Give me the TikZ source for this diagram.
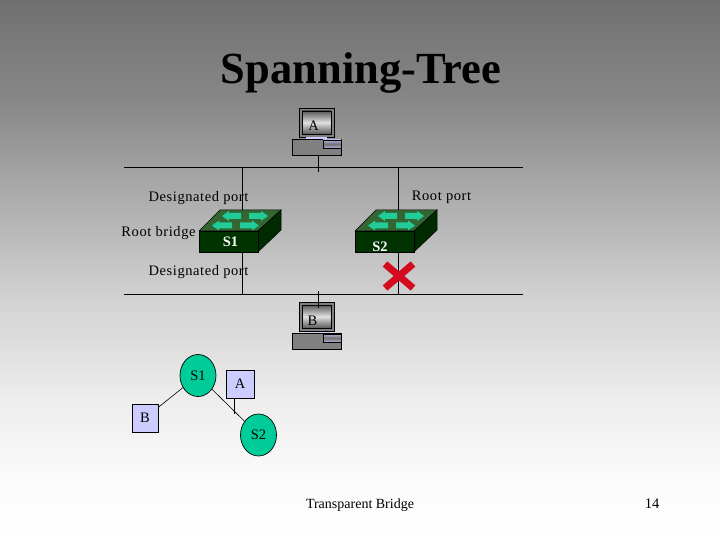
\documentclass[tikz,border=0pt]{standalone}
\usepackage{fontspec}
\setmainfont{Liberation Serif}
\newfontfamily\spacedfont[LetterSpace=4]{Liberation Serif}
\usetikzlibrary{shapes.geometric}
\definecolor{swfront}{HTML}{003300}
\definecolor{swtop}{HTML}{336633}
\definecolor{swarrow}{HTML}{22CC99}
\definecolor{nodegreen}{HTML}{00CC99}
\definecolor{boxblue}{HTML}{CCCCFF}
\definecolor{cross}{HTML}{D40A1E}
\definecolor{bga}{gray}{0.44}
\definecolor{bgb}{gray}{0.53}
\definecolor{bgc}{gray}{0.68}
\definecolor{bgd}{gray}{0.825}
\definecolor{bge}{gray}{0.93}
\definecolor{bgf}{gray}{0.985}
\pgfdeclareverticalshading{slidebg}{100bp}{color(0bp)=(white); color(25bp)=(white); color(30.5bp)=(bgf); color(38bp)=(bge); color(47.2bp)=(bgd); color(56.5bp)=(bgc); color(65.7bp)=(bgb); color(75bp)=(bga); color(100bp)=(bga)}
\tikzset{
  px/.style={x=1pt,y=-1pt},
  wire/.style={draw=black,line width=0.9pt},
  thin wire/.style={draw=black,line width=0.6pt},
  lbl/.style={font=\fontsize{14.5}{16}\selectfont,text=black,inner sep=0pt,anchor=center},
  spaced/.style={font=\spacedfont\fontsize{14.5}{16}\selectfont,text=black,inner sep=0pt,anchor=center},
  termbox/.style={draw=black,fill=boxblue,line width=0.7pt,minimum width=#1,minimum height=28pt,inner sep=0pt,font=\fontsize{14.5}{16}\selectfont},
  treenode/.style={ellipse,draw=black,fill=nodegreen,line width=0.7pt,minimum width=36pt,minimum height=42pt,inner sep=0pt,font=\fontsize{14.5}{16}\selectfont},
  swlabel/.style={font=\bfseries\fontsize{14.5}{16}\selectfont,text=white,inner sep=0pt}
}
% tip x, tail x, centre y: one block arrow on a switch's top face
\newcommand{\BlockArrow}[3]{%
  \pgfmathsetmacro{\hx}{#1+(#2>#1?7:-7)}%
  \fill[swarrow] (#1,#3)--(\hx,#3-5)--(\hx,#3-3)--(#2,#3-3)--(#2,#3+3)--(\hx,#3+3)--(\hx,#3+5)--cycle;}
\newcommand{\SwitchAt}[2]{%
  \begin{scope}[shift={(#1,#2)}]
    \fill[swtop,draw=black,line width=0.5pt] (0,21)--(21,0)--(82,0)--(59,21)--cycle;
    \fill[swfront!85!black,draw=black,line width=0.5pt] (59,21)--(82,0)--(82,20)--(59,42)--cycle;
    \fill[swfront,draw=black,line width=0.5pt] (0,21) rectangle (59,42);
    \BlockArrow{23}{42}{6}
    \BlockArrow{69}{50}{6}
    \BlockArrow{13}{33}{15.5}
    \BlockArrow{60}{41}{15.5}
  \end{scope}}
\newcommand{\ComputerAt}[2]{%
  \begin{scope}[shift={(#1,#2)}]
    \fill[gray,draw=black,line width=0.6pt] (7,0) rectangle (42,29);
    \shade[top color=black!65,bottom color=black!65,middle color=black!12,draw=black,line width=0.6pt] (10,3) rectangle (39,26);
    \fill[boxblue] (14,29.5) rectangle (35,31.5);
    \fill[gray,draw=black,line width=0.6pt] (0,31) rectangle (49,47);
    \shade[top color=boxblue!85!black,bottom color=boxblue!85!black,middle color=black!55,draw=black,line width=0.5pt] (31,32) rectangle (49,40);
  \end{scope}}
\begin{document}
\begin{tikzpicture}[px]
\useasboundingbox (0,0) rectangle (720,540);
\shade[shading=slidebg] (0,0) rectangle (720,540);

\node[font=\bfseries\fontsize{44.5}{46}\selectfont,inner sep=0pt] (title) at (361,73) {Spanning-Tree};

% buses
\coordinate (bus1l) at (124,167); \coordinate (bus1r) at (523,167);
\coordinate (bus2l) at (124,294); \coordinate (bus2r) at (523,294);
\draw[wire] (bus1l) -- (bus1r);
\draw[wire] (bus2l) -- (bus2r);

% switch drops
\coordinate (s1top) at (242,167); \coordinate (s1in) at (242,212);
\coordinate (s1out) at (242,252); \coordinate (s1bot) at (242,294);
\coordinate (s2top) at (398,167); \coordinate (s2in) at (398,212);
\coordinate (s2out) at (398,252); \coordinate (s2bot) at (398,294);
\draw[wire] (s1top) -- (s1in);
\draw[wire] (s1out) -- (s1bot);
\draw[wire] (s2top) -- (s2in);
\draw[wire] (s2out) -- (s2bot);

\SwitchAt{199}{210}
\SwitchAt{355}{210}
\node[swlabel] (s1lab) at (230.5,241.5) {S1};
\node[swlabel] (s2lab) at (380,247) {S2};

% red cross
\coordinate (xa) at (385,264); \coordinate (xb) at (413,288);
\coordinate (xc) at (413,264); \coordinate (xd) at (385,288);
\draw[cross,line width=7pt] (xa) -- (xb);
\draw[cross,line width=7pt] (xc) -- (xd);

% computers
\ComputerAt{292}{108}
\ComputerAt{292}{302}
\node[lbl] (pca) at (313.5,126) {A};
\node[lbl] (pcb) at (312.5,321) {B};
\coordinate (pcat) at (318,155); \coordinate (pcad) at (318,172);
\coordinate (pcbt) at (318,291); \coordinate (pcbd) at (318,308);
\draw[wire] (pcat) -- (pcad);
\draw[wire] (pcbt) -- (pcbd);

% labels
\node[spaced] (l1) at (198.5,198) {Designated port};
\node[spaced] (l2) at (441.5,197) {Root port};
\node[spaced] (l3) at (158.5,233) {Root bridge};
\node[spaced] (l4) at (198.5,272) {Designated port};

% tree
\node[treenode] (t1) at (198,375.5) {S1};
\node[treenode] (t2) at (258.5,435) {S2};
\node[termbox=26pt] (tb) at (145,418) {B};
\node[termbox=28pt] (ta) at (240,384) {A};
\coordinate (tap) at (234.5,414);
\draw[thin wire] (t1) -- (tb);
\draw[thin wire] (t1) -- (t2);
\draw[wire] (ta.south -| tap) -- (tap);

\node[font=\fontsize{14}{16}\selectfont,inner sep=0pt] (foot) at (360,505) {Transparent Bridge};
\node[lbl] (num) at (652,504) {14};
\end{tikzpicture}
\end{document}
